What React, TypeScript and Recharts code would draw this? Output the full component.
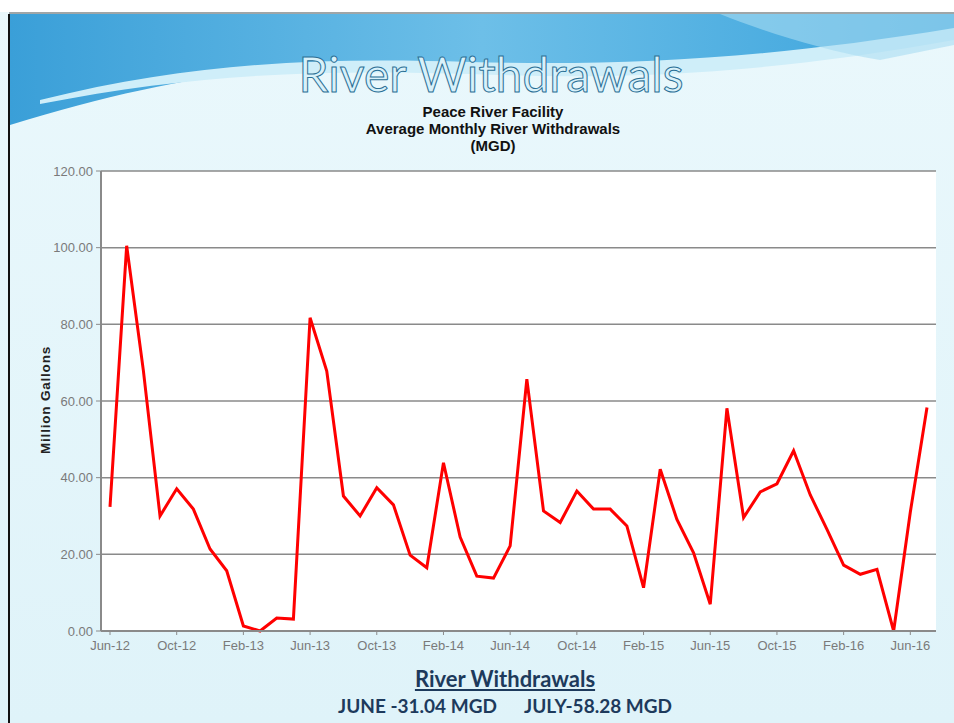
import { LineChart, Line, XAxis, YAxis, CartesianGrid } from 'recharts';

const months = [
  'Jun-12', 'Jul-12', 'Aug-12', 'Sep-12', 'Oct-12', 'Nov-12', 'Dec-12',
  'Jan-13', 'Feb-13', 'Mar-13', 'Apr-13', 'May-13', 'Jun-13', 'Jul-13', 'Aug-13', 'Sep-13', 'Oct-13', 'Nov-13', 'Dec-13',
  'Jan-14', 'Feb-14', 'Mar-14', 'Apr-14', 'May-14', 'Jun-14', 'Jul-14', 'Aug-14', 'Sep-14', 'Oct-14', 'Nov-14', 'Dec-14',
  'Jan-15', 'Feb-15', 'Mar-15', 'Apr-15', 'May-15', 'Jun-15', 'Jul-15', 'Aug-15', 'Sep-15', 'Oct-15', 'Nov-15', 'Dec-15',
  'Jan-16', 'Feb-16', 'Mar-16', 'Apr-16', 'May-16', 'Jun-16', 'Jul-16',
];

// million gallons per day
const withdrawals = [
  32.4, 100.5, 68.0, 30.0, 37.1, 31.8, 21.4,
  15.7, 1.3, 0.0, 3.4, 3.1, 81.7, 67.8, 35.2, 30.0, 37.4, 32.9, 19.8,
  16.5, 43.9, 24.5, 14.3, 13.8, 22.2, 65.7, 31.3, 28.3, 36.5, 31.8, 31.8,
  27.4, 11.3, 42.2, 29.1, 20.4, 7.0, 58.1, 29.6, 36.3, 38.4, 47.0, 35.5,
  26.5, 17.2, 14.8, 16.1, 0.0, 31.04, 58.28,
];

const yTicks = [0, 20, 40, 60, 80, 100, 120];

const data = months.map((m, i) => ({ month: m, mgd: withdrawals[i] }));

const tickStyle = { fill: '#7a7a7a', fontSize: 13, fontFamily: 'Liberation Sans, Arial, sans-serif' };

const App = () => {
  return (
    <div style={{ position: 'absolute', left: 0, top: 0, width: 954, height: 723, overflow: 'hidden', background: '#e3f5fa' }}>
      {/* slide banner */}
      <svg width={954} height={723} style={{ position: 'absolute', left: 0, top: 0 }}>
        <defs>
          <linearGradient id="band" x1="0" y1="0" x2="1" y2="0">
            <stop offset="0" stopColor="#3a9fd8" />
            <stop offset="0.5" stopColor="#6dbfe8" />
            <stop offset="1" stopColor="#3aa3dc" />
          </linearGradient>
          <linearGradient id="bg" x1="0" y1="0" x2="0" y2="1">
            <stop offset="0" stopColor="#eaf8fc" />
            <stop offset="1" stopColor="#dff3f9" />
          </linearGradient>
        </defs>
        <rect x={0} y={0} width={954} height={723} fill="url(#bg)" />
        <rect x={0} y={0} width={954} height={12} fill="#ffffff" />
        <path d="M10,14 L954,14 L954,30 C 820,55 700,70 560,66 C 400,60 250,50 10,125 Z" fill="url(#band)" />
        <path d="M40,100 C 200,60 330,58 470,62 C 620,66 760,60 954,28 L954,40 C 760,75 620,80 470,74 C 330,70 200,72 40,104 Z" fill="#cfeef9" />
        <path d="M720,14 C 760,30 820,50 880,60 L954,45 L954,14 Z" fill="#a8dcf2" opacity={0.6} />
        <line x1={9} y1={14} x2={9} y2={723} stroke="#111" strokeWidth={2} />
        <line x1={9} y1={13} x2={954} y2={13} stroke="#555" strokeWidth={1} />
      </svg>

      <div style={{ position: 'absolute', left: 0, width: 982, top: 50, textAlign: 'center', fontFamily: 'Lato, sans-serif', fontSize: 48, color: '#d8f1fa', WebkitTextStroke: '1px #2a6f95', lineHeight: 1 }}>
        River Withdrawals
      </div>
      <div style={{ position: 'absolute', left: 0, width: 986, top: 103, textAlign: 'center', fontFamily: 'Liberation Sans, Arial, sans-serif', fontWeight: 'bold', fontSize: 15, lineHeight: '17px', color: '#111' }}>
        <div>Peace River Facility</div>
        <div>Average Monthly River Withdrawals</div>
        <div>(MGD)</div>
      </div>

      <div style={{ position: 'absolute', left: 45, top: 400, transform: 'translate(-50%, -50%) rotate(-90deg)', fontFamily: 'Liberation Sans, Arial, sans-serif', fontWeight: 'bold', fontSize: 13.5, letterSpacing: 0.8, color: '#222', whiteSpace: 'nowrap' }}>
        Million Gallons
      </div>

      <div style={{ position: 'absolute', left: 0, top: 0 }}>
        <LineChart width={954} height={723} data={data} margin={{ top: 171, right: 18, left: 37, bottom: 58 }}>
          <CartesianGrid vertical={false} stroke="#8a8a8a" strokeWidth={1.5} fill="#ffffff" />
          <XAxis
            dataKey="month"
            interval={3}
            padding={{ left: 9, right: 9 }}
            tick={tickStyle}
            tickLine={{ stroke: '#8a8a8a' }}
            tickSize={4}
            tickMargin={6}
            axisLine={{ stroke: '#8a8a8a', strokeWidth: 2 }}
            height={34}
          />
          <YAxis
            domain={[0, 120]}
            ticks={yTicks}
            tickFormatter={(v: number) => v.toFixed(2)}
            tick={tickStyle}
            tickLine={{ stroke: '#8a8a8a' }}
            tickSize={5}
            tickMargin={3}
            axisLine={{ stroke: '#8a8a8a', strokeWidth: 2 }}
            width={64}
          />
          <YAxis yAxisId="r" orientation="right" tick={false} tickLine={false} width={0} axisLine={{ stroke: '#8a8a8a', strokeWidth: 2 }} />
          <Line
            type="linear"
            dataKey="mgd"
            stroke="#ff0000"
            strokeWidth={3}
            dot={false}
            isAnimationActive={false}
          />
        </LineChart>
      </div>

      <div style={{ position: 'absolute', left: 0, width: 1010, top: 665, textAlign: 'center', fontFamily: 'Lato, sans-serif', fontWeight: 'bold', fontSize: 22, color: '#1d3a5c', textDecoration: 'underline' }}>
        River Withdrawals
      </div>
      <div style={{ position: 'absolute', left: 0, width: 1010, top: 694, textAlign: 'center', fontFamily: 'Lato, sans-serif', fontWeight: 'bold', fontSize: 19, color: '#1d3a5c', whiteSpace: 'pre' }}>
        {'JUNE -31.04 MGD      JULY-58.28 MGD'}
      </div>
    </div>
  );
};

export default App;
